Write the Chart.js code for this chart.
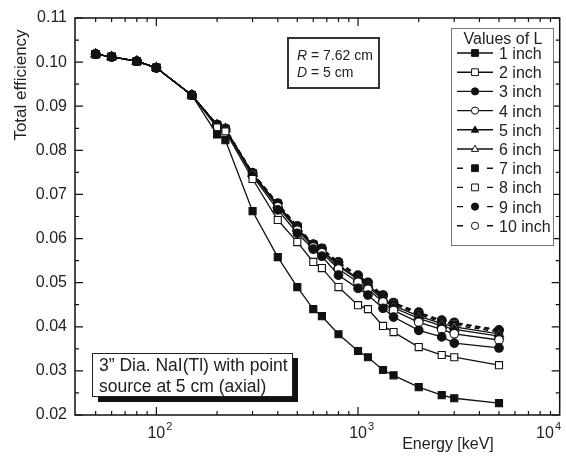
<!DOCTYPE html>
<html>
<head>
<meta charset="utf-8">
<script src="https://cdn.jsdelivr.net/npm/chart.js@4.4.1/dist/chart.umd.min.js"></script>
<style>
  html, body { margin: 0; padding: 0; background: #fff; }
  #wrap { width: 566px; height: 459px; }
</style>
</head>
<body>
<div id="wrap"><canvas id="effChart" width="566" height="459"></canvas></div>
<script>
// Energies [keV] and total efficiency for each detector-source distance L
const energies = [50, 60, 80, 100, 150, 200, 220, 300, 400, 500, 600, 662, 800, 1000, 1120, 1330, 1500, 2000, 2600, 3000, 5000];

const eff1in  = [0.1018, 0.1012, 0.1002, 0.0987, 0.0925, 0.0836, 0.0823, 0.0662, 0.0558, 0.0490, 0.0440, 0.0424, 0.0383, 0.0345, 0.0331, 0.0302, 0.0290, 0.0263, 0.0245, 0.0238, 0.0227];
const eff2in  = [0.1018, 0.1012, 0.1002, 0.0987, 0.0925, 0.0852, 0.0843, 0.0735, 0.0642, 0.0592, 0.0547, 0.0533, 0.0490, 0.0449, 0.0440, 0.0402, 0.0388, 0.0354, 0.0336, 0.0331, 0.0313];
const eff3in  = [0.1018, 0.1012, 0.1002, 0.0987, 0.0925, 0.0856, 0.0847, 0.0742, 0.0665, 0.0612, 0.0576, 0.0560, 0.0517, 0.0487, 0.0472, 0.0442, 0.0422, 0.0392, 0.0377, 0.0363, 0.0352];
const eff4in  = [0.1018, 0.1012, 0.1002, 0.0987, 0.0925, 0.0857, 0.0848, 0.0745, 0.0672, 0.0619, 0.0581, 0.0568, 0.0531, 0.0501, 0.0485, 0.0456, 0.0437, 0.0410, 0.0394, 0.0384, 0.0370];
const eff5in  = [0.1018, 0.1012, 0.1002, 0.0987, 0.0925, 0.0857, 0.0848, 0.0747, 0.0675, 0.0622, 0.0583, 0.0572, 0.0537, 0.0507, 0.0491, 0.0462, 0.0443, 0.0419, 0.0402, 0.0394, 0.0379];
const eff6in  = [0.1018, 0.1012, 0.1002, 0.0987, 0.0925, 0.0858, 0.0849, 0.0747, 0.0677, 0.0624, 0.0585, 0.0574, 0.0540, 0.0510, 0.0495, 0.0465, 0.0448, 0.0424, 0.0407, 0.0400, 0.0384];
const eff7in  = [0.1018, 0.1012, 0.1002, 0.0987, 0.0925, 0.0858, 0.0849, 0.0748, 0.0678, 0.0626, 0.0586, 0.0576, 0.0543, 0.0513, 0.0497, 0.0468, 0.0451, 0.0428, 0.0410, 0.0404, 0.0388];
const eff8in  = [0.1018, 0.1012, 0.1002, 0.0987, 0.0925, 0.0858, 0.0849, 0.0748, 0.0679, 0.0627, 0.0586, 0.0577, 0.0545, 0.0515, 0.0499, 0.0470, 0.0453, 0.0430, 0.0412, 0.0407, 0.0390];
const eff9in  = [0.1018, 0.1012, 0.1002, 0.0987, 0.0925, 0.0858, 0.0849, 0.0749, 0.0680, 0.0628, 0.0587, 0.0577, 0.0546, 0.0516, 0.0500, 0.0471, 0.0454, 0.0432, 0.0414, 0.0409, 0.0392];
const eff10in = [0.1018, 0.1012, 0.1002, 0.0987, 0.0925, 0.0858, 0.0849, 0.0749, 0.0680, 0.0628, 0.0587, 0.0578, 0.0547, 0.0517, 0.0501, 0.0472, 0.0455, 0.0433, 0.0415, 0.0410, 0.0393];

const seriesNames = ['1 inch', '2 inch', '3 inch', '4 inch', '5 inch', '6 inch', '7 inch', '8 inch', '9 inch', '10 inch'];
const seriesValues = [eff1in, eff2in, eff3in, eff4in, eff5in, eff6in, eff7in, eff8in, eff9in, eff10in];

// tick values
const yMajorTicks = [0.02, 0.03, 0.04, 0.05, 0.06, 0.07, 0.08, 0.09, 0.10, 0.11];
const yMinorTicks = [0.025, 0.035, 0.045, 0.055, 0.065, 0.075, 0.085, 0.095, 0.105];
const xMajorTicks = [100, 1000, 10000];
const xMajorLabels = ['2', '3', '4'];   // exponents of 10
const xMinorTicks = [50, 60, 70, 80, 90, 200, 300, 400, 500, 600, 700, 800, 900,
                     2000, 3000, 4000, 5000, 6000, 7000, 8000, 9000];

const FONT = '"Liberation Sans", Arial, Helvetica, sans-serif';
const INK = '#111';

// marker look per series: [pointStyle, filled, dashed]
const markerStyles = [
    ['rect', true, false], ['rect', false, false],
    ['circle', true, false], ['circle', false, false],
    ['triangle', true, false], ['triangle', false, false],
    ['rect', true, true], ['rect', false, true],
    ['circle', true, true], ['circle', false, true]
];

function markerRadius(style) {
    if (style === 'rect') return 5;
    if (style === 'triangle') return 5.2;
    return 4.3;
}

const datasets = seriesValues.map((vals, i) => {
    const [style, filled, dashed] = markerStyles[i];
    return {
        label: seriesNames[i],
        data: energies.map((e, k) => ({ x: e, y: vals[k] })),
        borderColor: INK,
        borderWidth: 1.3,
        borderDash: dashed ? [5, 4] : [],
        pointStyle: style,
        pointRadius: markerRadius(style),
        pointBackgroundColor: filled ? INK : '#fff',
        pointBorderColor: INK,
        pointBorderWidth: 1.1,
        tension: 0,
        fill: false
    };
});

// small marker for the hand-drawn legend
function drawMarker(ctx, style, filled, x, y, r) {
    ctx.beginPath();
    if (style === 'rect') {
        ctx.rect(x - r, y - r, 2 * r, 2 * r);
    } else if (style === 'circle') {
        ctx.arc(x, y, r, 0, Math.PI * 2);
    } else {
        ctx.moveTo(x, y - r * 1.1);
        ctx.lineTo(x + r * 1.05, y + r * 0.7);
        ctx.lineTo(x - r * 1.05, y + r * 0.7);
        ctx.closePath();
    }
    ctx.fillStyle = filled ? INK : '#fff';
    ctx.fill();
    ctx.lineWidth = 1;
    ctx.strokeStyle = INK;
    ctx.stroke();
}

const framePlugin = {
    id: 'frame',
    afterDraw(chart) {
        const { ctx, chartArea: a } = chart;
        const xs = chart.scales.x, ys = chart.scales.y;
        ctx.save();

        // box round the plot
        ctx.strokeStyle = INK;
        ctx.lineWidth = 1.5;
        ctx.strokeRect(a.left, a.top, a.right - a.left, a.bottom - a.top);

        // inward ticks on all four sides
        ctx.lineWidth = 1.2;
        ctx.beginPath();
        const tickX = (v, len) => {
            const px = xs.getPixelForValue(v);
            if (px < a.left + 1 || px > a.right - 1) return;
            ctx.moveTo(px, a.bottom); ctx.lineTo(px, a.bottom - len);
            ctx.moveTo(px, a.top); ctx.lineTo(px, a.top + len);
        };
        const tickY = (v, len) => {
            const py = ys.getPixelForValue(v);
            ctx.moveTo(a.left, py); ctx.lineTo(a.left + len, py);
            ctx.moveTo(a.right, py); ctx.lineTo(a.right - len, py);
        };
        xMinorTicks.forEach(v => tickX(v, 4));
        xMajorTicks.forEach(v => tickX(v, 8));
        yMinorTicks.forEach(v => tickY(v, 4));
        yMajorTicks.forEach(v => tickY(v, 8));
        ctx.stroke();

        // x tick labels 10^n (last one pulled inside the picture)
        ctx.fillStyle = '#222';
        ctx.textBaseline = 'alphabetic';
        xMajorTicks.forEach((v, i) => {
            const px = xs.getPixelForValue(v);
            ctx.font = '16px ' + FONT;
            const wBase = ctx.measureText('10').width;
            ctx.font = '11px ' + FONT;
            const wExp = ctx.measureText(xMajorLabels[i]).width;
            let left = px - wBase / 2;
            if (left + wBase + wExp > chart.width - 4) left = chart.width - 5 - wBase - wExp - 1;
            ctx.font = '16px ' + FONT;
            ctx.textAlign = 'left';
            ctx.fillText('10', left, a.bottom + 23);
            ctx.font = '11px ' + FONT;
            ctx.fillText(xMajorLabels[i], left + wBase + 1, a.bottom + 15);
        });

        // axis titles
        ctx.font = '16px ' + FONT;
        ctx.textAlign = 'center';
        ctx.fillText('Energy [keV]', 448, 449);
        ctx.save();
        ctx.translate(26, 85);
        ctx.rotate(-Math.PI / 2);
        ctx.font = '17px ' + FONT;
        ctx.fillText('Total efficiency', 0, 0);
        ctx.restore();

        // R / D box
        ctx.fillStyle = '#fff';
        ctx.fillRect(288, 38, 91, 50);
        ctx.strokeStyle = '#333';
        ctx.lineWidth = 2;
        ctx.strokeRect(288, 38, 91, 50);
        ctx.fillStyle = '#222';
        ctx.textAlign = 'left';
        [['R', ' = 7.62 cm', 60], ['D', ' = 5 cm', 77]].forEach(([sym, rest, yy]) => {
            ctx.font = 'italic 14px ' + FONT;
            ctx.fillText(sym, 297, yy);
            const w = ctx.measureText(sym).width;
            ctx.font = '14px ' + FONT;
            ctx.fillText(rest, 297 + w, yy);
        });

        // detector note with shadow
        ctx.fillStyle = '#111';
        ctx.fillRect(98, 358, 200, 44);
        ctx.fillStyle = '#fff';
        ctx.fillRect(92, 353, 200, 43);
        ctx.strokeStyle = '#222';
        ctx.lineWidth = 1;
        ctx.strokeRect(92.5, 353.5, 200, 43);
        ctx.fillStyle = '#222';
        ctx.font = '17.5px ' + FONT;
        ctx.fillText('3\u201D Dia. NaI(Tl) with point', 99, 371);
        ctx.fillText('source at 5 cm (axial)', 99, 392);

        // legend
        ctx.fillStyle = '#fff';
        ctx.fillRect(451, 28, 102, 217);
        ctx.strokeStyle = '#777';
        ctx.lineWidth = 1;
        ctx.strokeRect(451.5, 28.5, 102, 217);
        ctx.fillStyle = '#222';
        ctx.font = '16px ' + FONT;
        ctx.textAlign = 'center';
        ctx.fillText('Values of L', 503, 44);
        ctx.textAlign = 'left';
        seriesNames.forEach((name, i) => {
            const yy = 53 + i * 19.2;
            const [style, filled, dashed] = markerStyles[i];
            ctx.strokeStyle = INK;
            ctx.lineWidth = 1.4;
            ctx.beginPath();
            if (dashed) {
                ctx.moveTo(457, yy); ctx.lineTo(463, yy);
                ctx.moveTo(487, yy); ctx.lineTo(493, yy);
            } else {
                ctx.moveTo(457, yy); ctx.lineTo(493, yy);
            }
            ctx.stroke();
            drawMarker(ctx, style, filled, 475, yy, style === 'circle' ? 3.6 : 3.4);
            ctx.fillStyle = '#222';
            ctx.fillText(name, 499, yy + 6);
        });

        ctx.restore();
    }
};

new Chart(document.getElementById('effChart').getContext('2d'), {
    type: 'line',
    data: { datasets: datasets },
    options: {
        responsive: false,
        animation: false,
        devicePixelRatio: 1,
        layout: { padding: { top: 18, right: 2, left: 0, bottom: 0 } },
        plugins: {
            legend: { display: false },
            tooltip: { enabled: false }
        },
        scales: {
            x: {
                type: 'logarithmic',
                min: 39.5,
                max: 10000,
                grid: { display: false, drawTicks: false },
                border: { display: false },
                ticks: { display: false },
                afterFit: scale => { scale.height = 44; }
            },
            y: {
                type: 'linear',
                min: 0.02,
                max: 0.11,
                grid: { display: false, drawTicks: false },
                border: { display: false },
                ticks: {
                    stepSize: 0.01,
                    padding: 8,
                    color: '#222',
                    font: { family: FONT, size: 16 },
                    callback: v => Number(v).toFixed(2)
                },
                afterFit: scale => { scale.width = 75; }
            }
        }
    },
    plugins: [framePlugin]
});
</script>
</body>
</html>
